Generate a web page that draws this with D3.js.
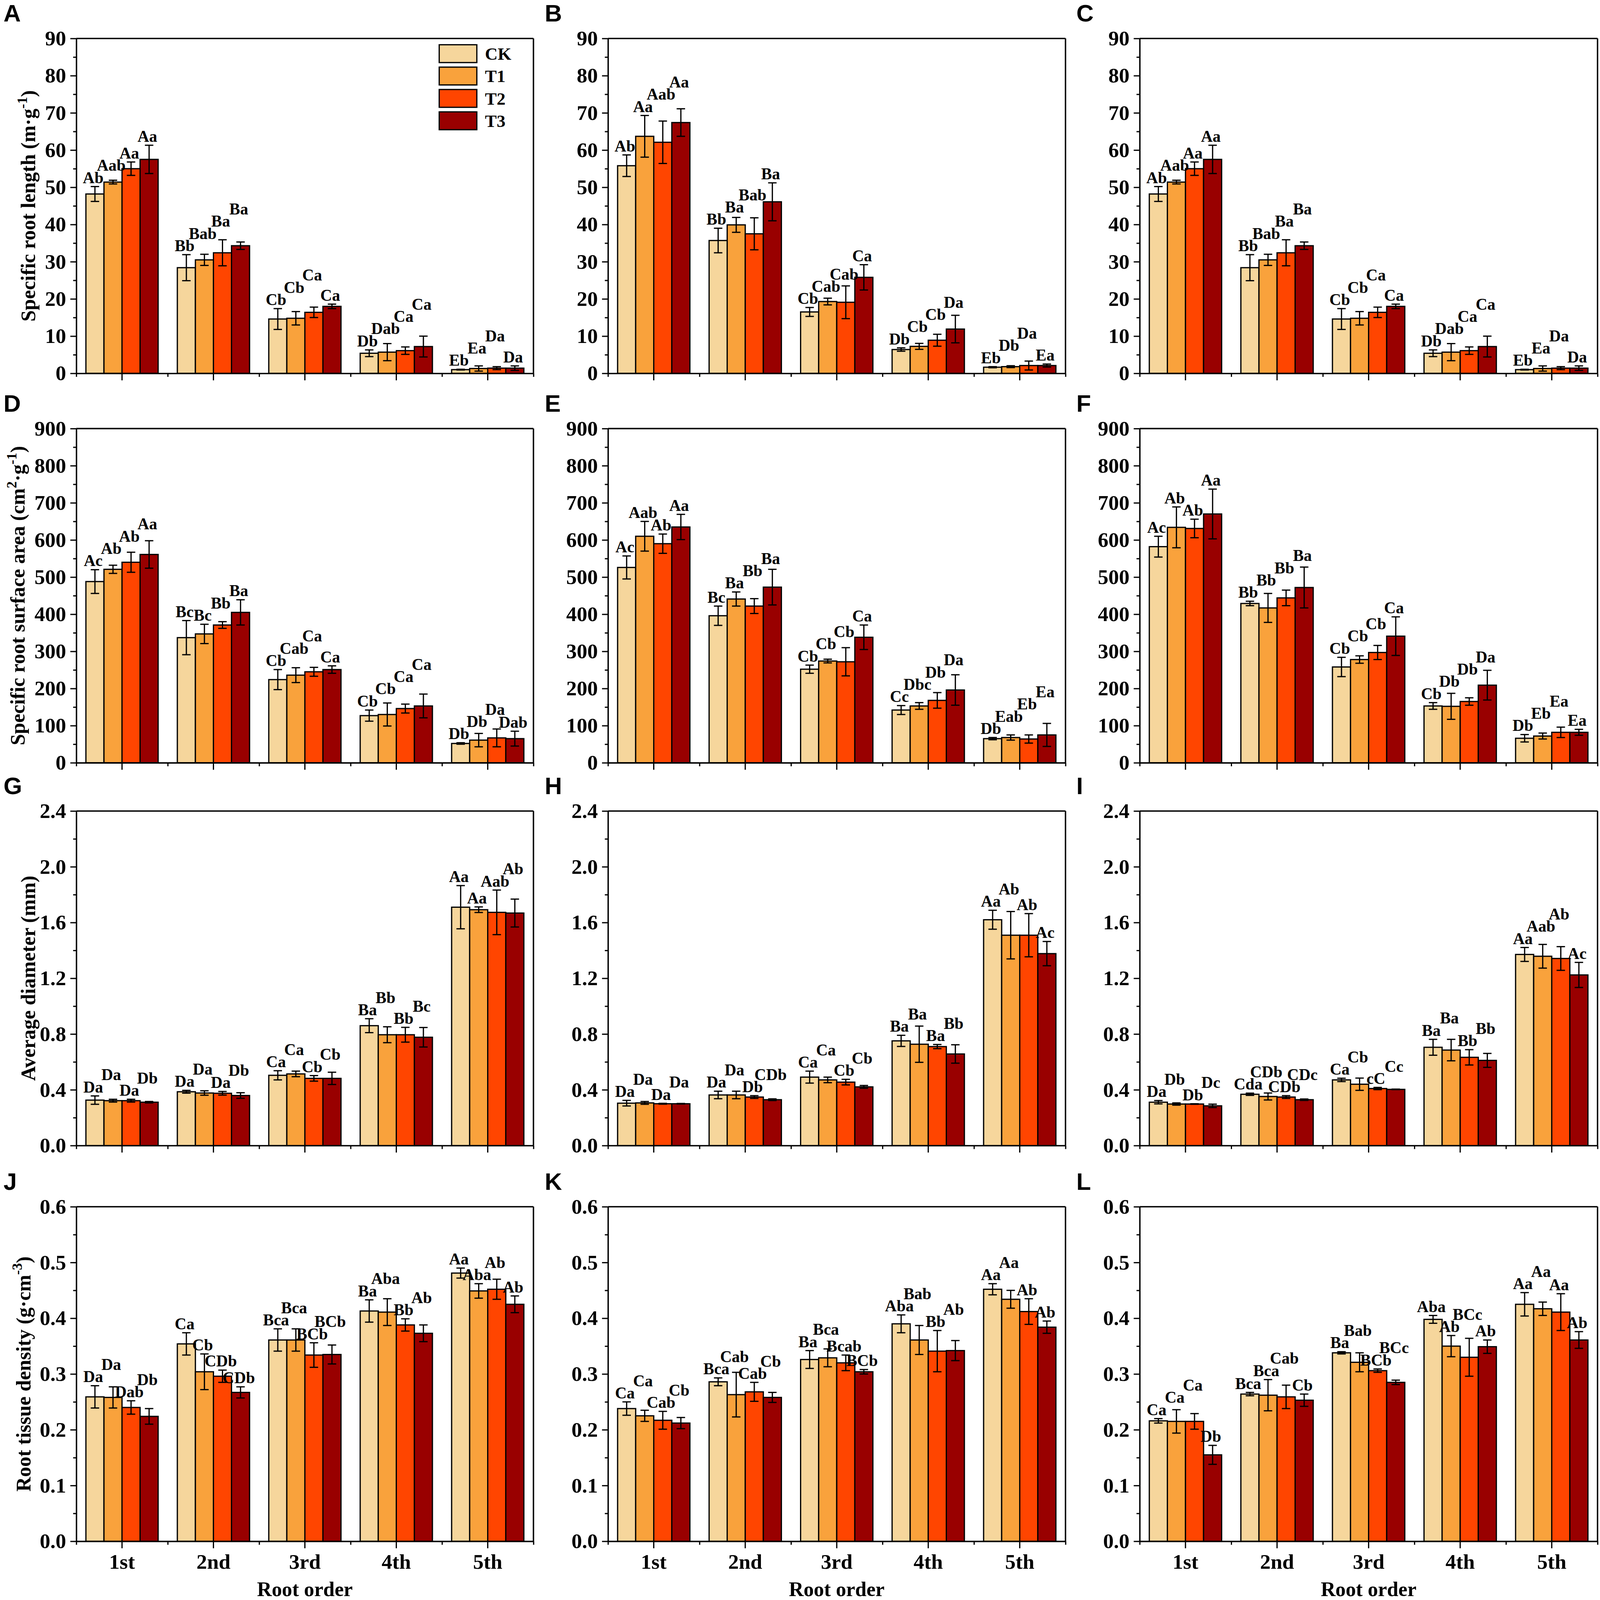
<!DOCTYPE html>
<html><head><meta charset="utf-8">
<script src="https://cdn.jsdelivr.net/npm/d3@7"></script>
<style>html,body{margin:0;padding:0;background:#fff;overflow:hidden}#chart{display:block;width:100vw;height:100vh}</style>
</head><body>
<svg id="chart" viewBox="0 0 4550 4577" preserveAspectRatio="none" xmlns="http://www.w3.org/2000/svg"></svg>
<script>
// ---------- data ----------
const categories = ["1st","2nd","3rd","4th","5th"];
const treatments = ["CK","T1","T2","T3"];
const colors = ["#F6D69C","#F9A23C","#FF4500","#990000"];

// Specific root length (rows: root order, cols: CK,T1,T2,T3)
const A_mean = [[48.2,51.4,55.0,57.5],[28.4,30.5,32.4,34.3],[14.6,14.8,16.4,18.0],[5.4,5.7,6.1,7.2],[1.0,1.3,1.4,1.4]];
const A_err  = [[2.0,0.5,1.8,3.8],[3.5,1.5,3.5,1.0],[2.8,1.8,1.4,0.6],[0.9,2.3,1.0,2.8],[0.1,0.7,0.4,0.6]];
const A_lab  = [["Ab","Aab","Aa","Aa"],["Bb","Bab","Ba","Ba"],["Cb","Cb","Ca","Ca"],["Db","Dab","Ca","Ca"],["Eb","Ea","Da","Da"]];

const B_mean = [[55.8,63.7,62.1,67.4],[35.7,39.9,37.5,46.1],[16.5,19.3,19.1,25.8],[6.4,7.25,8.9,11.9],[1.65,1.8,2.1,2.1]];
const B_err  = [[2.9,5.6,5.7,3.7],[3.3,2.0,4.3,5.1],[1.2,0.9,4.4,3.4],[0.45,0.8,1.6,3.7],[0.15,0.25,1.2,0.4]];
const B_lab  = [["Ab","Aa","Aab","Aa"],["Bb","Ba","Bab","Ba"],["Cb","Cab","Cab","Ca"],["Db","Cb","Cb","Da"],["Eb","Db","Da","Ea"]];

const C_mean = [[48.2,51.4,55.0,57.5],[28.4,30.5,32.4,34.3],[14.6,14.8,16.4,18.0],[5.4,5.7,6.1,7.2],[1.0,1.3,1.4,1.4]];
const C_err  = [[2.0,0.5,1.8,3.8],[3.5,1.5,3.5,1.0],[2.8,1.8,1.4,0.6],[0.9,2.3,1.0,2.8],[0.1,0.7,0.4,0.6]];
const C_lab  = [["Ab","Aab","Aa","Aa"],["Bb","Bab","Ba","Ba"],["Cb","Cb","Ca","Ca"],["Db","Dab","Ca","Ca"],["Eb","Ea","Da","Da"]];

// Specific root surface area
const D_mean = [[488,521,540,561],[337,347,371,405],[224,236,245,251],[127,130,146,153],[52,61,67,65]];
const D_err  = [[32,11,27,37],[46,26,9,34],[27,20,12,10],[15,31,12,32],[2,18,24,20]];
const D_lab  = [["Ac","Ab","Ab","Aa"],["Bc","Bc","Bb","Ba"],["Cb","Cab","Ca","Ca"],["Cb","Cb","Ca","Ca"],["Db","Db","Da","Dab"]];

const E_mean = [[526,610,590,635],[396,441,422,473],[252,274,272,338],[142,153,168,196],[65,68,64,75]];
const E_err  = [[31,40,26,34],[26,19,20,48],[11,5,38,33],[12,9,21,41],[3,7,11,31]];
const E_lab  = [["Ac","Aab","Ab","Aa"],["Bc","Ba","Bb","Ba"],["Cb","Cb","Cb","Ca"],["Cc","Dbc","Db","Da"],["Db","Eab","Eb","Ea"]];

const F_mean = [[582,634,631,670],[429,417,444,472],[258,278,297,341],[153,152,165,209],[66,72,82,82]];
const F_err  = [[28,55,25,67],[6,39,21,55],[26,10,19,52],[9,35,10,40],[10,8,14,8]];
const F_lab  = [["Ac","Ab","Ab","Aa"],["Bb","Bb","Bb","Ba"],["Cb","Cb","Cb","Ca"],["Cb","Db","Db","Da"],["Db","Eb","Ea","Ea"]];

// Average diameter
const G_mean = [[0.326,0.322,0.322,0.311],[0.386,0.377,0.375,0.359],[0.504,0.514,0.482,0.482],[0.86,0.795,0.795,0.777],[1.71,1.692,1.673,1.668]];
const G_err  = [[0.03,0.01,0.01,0.005],[0.01,0.016,0.013,0.02],[0.033,0.02,0.02,0.044],[0.05,0.057,0.053,0.07],[0.155,0.02,0.16,0.10]];
const G_lab  = [["Da","Da","Da","Db"],["Da","Da","Da","Db"],["Ca","Ca","Cb","Cb"],["Ba","Bb","Bb","Bc"],["Aa","Aa","Aab","Ab"]];

const H_mean = [[0.304,0.306,0.300,0.300],[0.363,0.363,0.348,0.329],[0.491,0.471,0.455,0.421],[0.751,0.727,0.71,0.657],[1.62,1.509,1.509,1.377]];
const H_err  = [[0.02,0.01,0.003,0.002],[0.027,0.027,0.01,0.006],[0.043,0.02,0.02,0.01],[0.04,0.13,0.015,0.066],[0.068,0.17,0.155,0.087]];
const H_lab  = [["Da","Da","Da","Da"],["Da","Da","Db","CDb"],["Ca","Ca","Cb","Cb"],["Ba","Ba","Ba","Bb"],["Aa","Ab","Ab","Ac"]];

const I_mean = [[0.311,0.298,0.298,0.285],[0.368,0.352,0.348,0.329],[0.471,0.44,0.409,0.403],[0.705,0.685,0.633,0.611],[1.371,1.358,1.342,1.224]];
const I_err  = [[0.012,0.008,0.002,0.012],[0.008,0.025,0.01,0.005],[0.012,0.044,0.008,0.002],[0.057,0.077,0.055,0.05],[0.05,0.085,0.085,0.09]];
const I_lab  = [["Da","Db","Db","Dc"],["Cda","CDb","CDb","CDc"],["Ca","Cb","cC","Cc"],["Ba","Ba","Bb","Bb"],["Aa","Aab","Ab","Ac"]];

// Root tissue density
const J_mean = [[0.259,0.258,0.240,0.224],[0.354,0.304,0.296,0.267],[0.361,0.361,0.334,0.335],[0.413,0.411,0.388,0.373],[0.481,0.449,0.452,0.425]];
const J_err  = [[0.02,0.019,0.012,0.014],[0.02,0.032,0.011,0.01],[0.02,0.02,0.022,0.017],[0.02,0.024,0.011,0.015],[0.009,0.013,0.018,0.015]];
const J_lab  = [["Da","Da","Dab","Db"],["Ca","Cb","CDb","CDb"],["Bca","Bca","BCb","BCb"],["Ba","Aba","Bb","Ab"],["Aa","Aba","Ab","Ab"]];

const K_mean = [[0.238,0.225,0.217,0.212],[0.286,0.263,0.268,0.258],[0.326,0.329,0.320,0.304],[0.390,0.361,0.341,0.342],[0.452,0.434,0.412,0.384]];
const K_err  = [[0.012,0.01,0.016,0.01],[0.007,0.04,0.017,0.009],[0.016,0.016,0.014,0.004],[0.016,0.026,0.037,0.018],[0.01,0.016,0.023,0.011]];
const K_lab  = [["Ca","Ca","Cab","Cb"],["Bca","Cab","Cab","Cb"],["Ba","Bca","Bcab","BCb"],["Aba","Bab","Bb","Ab"],["Aa","Aa","Ab","Ab"]];

const L_mean = [[0.216,0.215,0.215,0.155],[0.264,0.262,0.259,0.253],[0.338,0.321,0.306,0.285],[0.398,0.350,0.330,0.349],[0.425,0.417,0.411,0.361]];
const L_err  = [[0.004,0.021,0.014,0.017],[0.003,0.028,0.021,0.011],[0.002,0.017,0.003,0.004],[0.007,0.019,0.034,0.012],[0.021,0.012,0.033,0.015]];
const L_lab  = [["Ca","Ca","Ca","Db"],["Bca","Bca","Cab","Cb"],["Ba","Bab","BCb","BCc"],["Aba","Ab","BCc","Ab"],["Aa","Aa","Aa","Ab"]];

// axis settings per row
const rowMax   = [90, 900, 2.4, 0.6];
const rowMajor = [10, 100, 0.4, 0.1];
const rowFmt   = ["d", "d", ".1f", ".1f"];
const rowTitles = [
  [["Specific root length (m·g",0],["-1",1],[")",0]],
  [["Specific root surface area (cm",0],["2",1],["·g",0],["-1",1],[")",0]],
  [["Average diameter (mm)",0]],
  [["Root tissue density (g·cm",0],["-3",1],[")",0]]
];
const xTitle = "Root order";

const panels = [
  ["A",A_mean,A_err,A_lab],["B",B_mean,B_err,B_lab],["C",C_mean,C_err,C_lab],
  ["D",D_mean,D_err,D_lab],["E",E_mean,E_err,E_lab],["F",F_mean,F_err,F_lab],
  ["G",G_mean,G_err,G_lab],["H",H_mean,H_err,H_lab],["I",I_mean,I_err,I_lab],
  ["J",J_mean,J_err,J_lab],["K",K_mean,K_err,K_lab],["L",L_mean,L_err,L_lab]
];

// ---------- layout ----------
const colX = [[217,1517],[1729,3030],[3241,4543]];
const rowY = [[110,1068],[1226,2182],[2320,3277],[3452,4409]];
const titleX = [80, 50, 80, 66];
const serif = "'Liberation Serif','Times New Roman',serif";
const sans = "'Liberation Sans',Arial,sans-serif";
const LW = 4;
const LABEL_FS = 46, LABEL_H = 35, LABEL_GAP = 10;

const svg = d3.select("#chart");
svg.append("rect").attr("width",4550).attr("height",4577).attr("fill","#fff");

panels.forEach((p, idx) => {
  const [id, mean, err, lab] = p;
  const r = Math.floor(idx / 3), c = idx % 3;
  const [x0, x1] = colX[c], [y0, y1] = rowY[r];
  const g = svg.append("g");

  const x = d3.scaleBand().domain(categories).range([x0, x1]).padding(0);
  const bw = x.bandwidth();
  const xs = d3.scaleBand().domain(treatments).range([bw*0.105, bw*0.895]).padding(0);
  const y = d3.scaleLinear().domain([0, rowMax[r]]).range([y1, y0]);

  // bars
  categories.forEach((cat, i) => {
    treatments.forEach((t, j) => {
      const bx = x(cat) + xs(t);
      g.append("rect")
        .attr("x", bx).attr("width", xs.bandwidth())
        .attr("y", y(mean[i][j])).attr("height", y(0) - y(mean[i][j]))
        .attr("fill", colors[j]).attr("stroke", "#000").attr("stroke-width", 3.5);
    });
  });
  // error bars
  categories.forEach((cat, i) => {
    treatments.forEach((t, j) => {
      const cx = x(cat) + xs(t) + xs.bandwidth()/2;
      const yt = y(mean[i][j] + err[i][j]), yb = y(mean[i][j] - err[i][j]);
      const eg = g.append("g").attr("stroke","#000").attr("stroke-width",3.5);
      eg.append("line").attr("x1",cx).attr("x2",cx).attr("y1",yt).attr("y2",yb);
      eg.append("line").attr("x1",cx-12).attr("x2",cx+12).attr("y1",yt).attr("y2",yt);
      eg.append("line").attr("x1",cx-12).attr("x2",cx+12).attr("y1",yb).attr("y2",yb);
    });
  });
  // significance labels (lifted when they would collide with an earlier label)
  const placed = [];
  categories.forEach((cat, i) => {
    treatments.forEach((t, j) => {
      const cx = x(cat) + xs(t) + xs.bandwidth()/2 - 5;
      const txt = g.append("text")
        .attr("x", cx).attr("text-anchor","middle")
        .attr("font-family", serif).attr("font-weight","bold").attr("font-size",LABEL_FS)
        .text(lab[i][j]);
      const w = txt.node().getComputedTextLength();
      const l = cx - w/2, rr = cx + w/2;
      let yb = y(mean[i][j] + err[i][j]) - LABEL_GAP;
      let moved = true;
      while (moved) {
        moved = false;
        for (const q of placed) {
          if (rr > q.l + 2 && l < q.r - 2 && Math.abs(yb - q.yb) < LABEL_H) {
            yb = q.yb - LABEL_H; moved = true;
          }
        }
      }
      txt.attr("y", yb);
      placed.push({l, r: rr, yb});
    });
  });

  // frame (top & right)
  g.append("line").attr("x1",x0).attr("x2",x1).attr("y1",y0).attr("y2",y0).attr("stroke","#000").attr("stroke-width",LW);
  g.append("line").attr("x1",x1).attr("x2",x1).attr("y1",y0).attr("y2",y1).attr("stroke","#000").attr("stroke-width",LW);

  // y axis
  const majors = d3.range(0, rowMax[r] + rowMajor[r]/2, rowMajor[r]);
  const minors = d3.range(rowMajor[r]/2, rowMax[r], rowMajor[r]);
  const fmt = d3.format(rowFmt[r]);
  const ya = g.append("g").attr("transform",`translate(${x0},0)`)
    .call(d3.axisLeft(y).tickValues(majors).tickFormat(fmt).tickSize(17).tickSizeOuter(0).tickPadding(12));
  ya.append("g").call(d3.axisLeft(y).tickValues(minors).tickFormat("").tickSize(9).tickSizeOuter(0))
    .select(".domain").remove();
  ya.selectAll("path.domain").attr("stroke-width",LW);
  ya.selectAll(".tick line").attr("stroke-width",3.5);
  ya.selectAll("text").attr("font-family",serif).attr("font-weight","bold").attr("font-size",60).attr("fill","#000");

  // x axis
  const xa = g.append("g").attr("transform",`translate(0,${y1})`)
    .call(d3.axisBottom(x).tickSize(20).tickSizeOuter(0).tickPadding(16)
      .tickFormat(r === 3 ? (d => d) : () => ""));
  const xb = d3.scaleLinear().domain([0, categories.length]).range([x0, x1]);
  xa.append("g").call(d3.axisBottom(xb).tickValues(d3.range(0, categories.length + 1)).tickFormat("").tickSize(10).tickSizeOuter(0))
    .select(".domain").remove();
  xa.selectAll("path.domain").attr("stroke-width",LW);
  xa.selectAll(".tick line").attr("stroke-width",3.5);
  xa.selectAll("text").attr("font-family",serif).attr("font-weight","bold").attr("font-size",60).attr("fill","#000");

  if (r === 3) {
    g.append("text").attr("x",(x0+x1)/2).attr("y",4566).attr("text-anchor","middle")
      .attr("font-family",serif).attr("font-weight","bold").attr("font-size",58).text(xTitle);
  }

  // y title (first column only)
  if (c === 0) {
    const cy = (y0 + y1)/2;
    const tt = g.append("text").attr("transform",`translate(${titleX[r]},${cy}) rotate(-90)`)
      .attr("text-anchor","middle").attr("dy","0.35em")
      .attr("font-family",serif).attr("font-weight","bold").attr("font-size",58);
    let raised = false;
    rowTitles[r].forEach(([s, sup]) => {
      const ts = tt.append("tspan").text(s);
      if (sup && !raised) { ts.attr("dy",-24).attr("font-size",40); raised = true; }
      else if (!sup && raised) { ts.attr("dy",24); raised = false; }
      else if (sup) { ts.attr("font-size",40); }
    });
  }

  // panel letter
  svg.append("text").attr("x", c === 0 ? 10 : x0 - 180).attr("y", y0 - 48)
    .attr("font-family",sans).attr("font-weight","bold").attr("font-size",68).text(id);

  // legend in panel A
  if (idx === 0) {
    const lg = g.append("g");
    treatments.forEach((t, j) => {
      lg.append("rect").attr("x", x0 + 1032).attr("y", y0 + 18 + j*64)
        .attr("width",107).attr("height",51).attr("fill",colors[j])
        .attr("stroke","#000").attr("stroke-width",3.5);
      lg.append("text").attr("x", x0 + 1162).attr("y", y0 + 18 + j*64 + 25.5).attr("dy","0.35em")
        .attr("font-family",serif).attr("font-weight","bold").attr("font-size",50).text(t);
    });
  }
});
</script>
</body></html>
